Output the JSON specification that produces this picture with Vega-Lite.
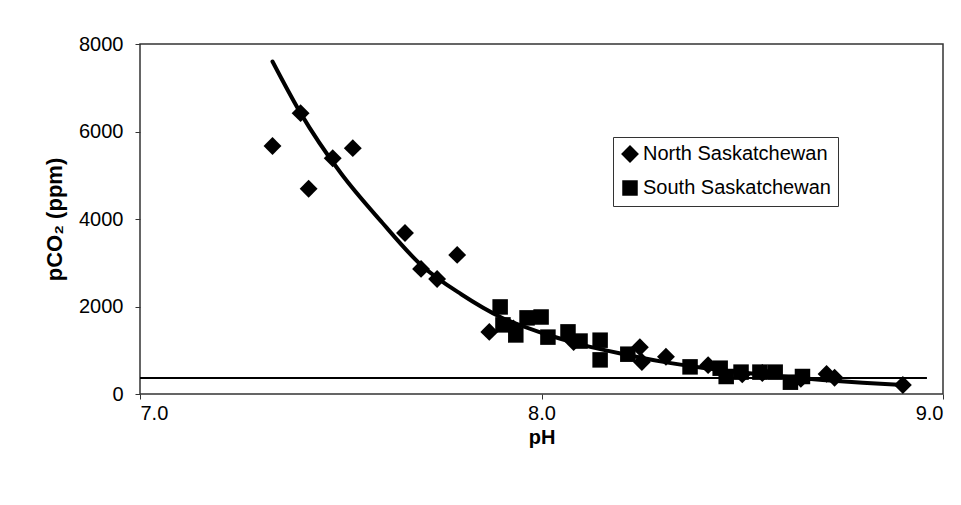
{
  "$schema": "https://vega.github.io/schema/vega-lite/v6.json",
  "autosize": "none",
  "width": 803,
  "height": 350,
  "padding": {"left": 140, "top": 44, "right": 18, "bottom": 111},
  "background": "white",
  "config": {
    "font": "Liberation Sans",
    "view": {"stroke": "#333333", "strokeWidth": 1.5},
    "axis": {
      "grid": false,
      "domain": false,
      "tickColor": "#333333",
      "tickSize": 5,
      "labelFont": "Liberation Sans",
      "labelFontSize": 20,
      "labelColor": "black",
      "titleFont": "Liberation Sans",
      "titleFontSize": 20,
      "titleFontWeight": "bold",
      "titleColor": "black"
    },
    "legend": {
      "labelFont": "Liberation Sans",
      "labelFontSize": 20,
      "labelColor": "black",
      "labelLimit": 0
    }
  },
  "datasets": {
    "samples": [
      {"river": "North Saskatchewan", "pH": 7.33, "pCO2": 5670},
      {"river": "North Saskatchewan", "pH": 7.40, "pCO2": 6420},
      {"river": "North Saskatchewan", "pH": 7.42, "pCO2": 4690},
      {"river": "North Saskatchewan", "pH": 7.48, "pCO2": 5390},
      {"river": "North Saskatchewan", "pH": 7.53, "pCO2": 5620},
      {"river": "North Saskatchewan", "pH": 7.66, "pCO2": 3680},
      {"river": "North Saskatchewan", "pH": 7.70, "pCO2": 2860},
      {"river": "North Saskatchewan", "pH": 7.74, "pCO2": 2630},
      {"river": "North Saskatchewan", "pH": 7.79, "pCO2": 3180},
      {"river": "North Saskatchewan", "pH": 7.87, "pCO2": 1420},
      {"river": "North Saskatchewan", "pH": 7.93, "pCO2": 1500},
      {"river": "North Saskatchewan", "pH": 8.08, "pCO2": 1190},
      {"river": "North Saskatchewan", "pH": 8.245, "pCO2": 1070},
      {"river": "North Saskatchewan", "pH": 8.25, "pCO2": 730},
      {"river": "North Saskatchewan", "pH": 8.31, "pCO2": 850},
      {"river": "North Saskatchewan", "pH": 8.415, "pCO2": 660},
      {"river": "North Saskatchewan", "pH": 8.50, "pCO2": 450},
      {"river": "North Saskatchewan", "pH": 8.55, "pCO2": 480},
      {"river": "North Saskatchewan", "pH": 8.646, "pCO2": 345},
      {"river": "North Saskatchewan", "pH": 8.71, "pCO2": 460},
      {"river": "North Saskatchewan", "pH": 8.73, "pCO2": 370},
      {"river": "North Saskatchewan", "pH": 8.90, "pCO2": 205},
      {"river": "South Saskatchewan", "pH": 7.897, "pCO2": 1990},
      {"river": "South Saskatchewan", "pH": 7.904, "pCO2": 1580},
      {"river": "South Saskatchewan", "pH": 7.936, "pCO2": 1350},
      {"river": "South Saskatchewan", "pH": 7.964, "pCO2": 1740},
      {"river": "South Saskatchewan", "pH": 7.999, "pCO2": 1760},
      {"river": "South Saskatchewan", "pH": 8.016, "pCO2": 1300},
      {"river": "South Saskatchewan", "pH": 8.066, "pCO2": 1420},
      {"river": "South Saskatchewan", "pH": 8.096, "pCO2": 1210},
      {"river": "South Saskatchewan", "pH": 8.146, "pCO2": 1230},
      {"river": "South Saskatchewan", "pH": 8.146, "pCO2": 780},
      {"river": "South Saskatchewan", "pH": 8.215, "pCO2": 910},
      {"river": "South Saskatchewan", "pH": 8.37, "pCO2": 620},
      {"river": "South Saskatchewan", "pH": 8.445, "pCO2": 590},
      {"river": "South Saskatchewan", "pH": 8.46, "pCO2": 400},
      {"river": "South Saskatchewan", "pH": 8.497, "pCO2": 500},
      {"river": "South Saskatchewan", "pH": 8.544, "pCO2": 500},
      {"river": "South Saskatchewan", "pH": 8.582, "pCO2": 500},
      {"river": "South Saskatchewan", "pH": 8.62, "pCO2": 270},
      {"river": "South Saskatchewan", "pH": 8.65, "pCO2": 400}
    ],
    "trend": [
      {"pH": 7.33, "pCO2": 7600},
      {"pH": 7.40, "pCO2": 6420},
      {"pH": 7.50, "pCO2": 5050},
      {"pH": 7.60, "pCO2": 3950},
      {"pH": 7.70, "pCO2": 2950},
      {"pH": 7.80, "pCO2": 2280},
      {"pH": 7.90, "pCO2": 1750},
      {"pH": 8.00, "pCO2": 1400},
      {"pH": 8.10, "pCO2": 1130},
      {"pH": 8.20, "pCO2": 920},
      {"pH": 8.30, "pCO2": 740},
      {"pH": 8.40, "pCO2": 600},
      {"pH": 8.50, "pCO2": 490},
      {"pH": 8.60, "pCO2": 400},
      {"pH": 8.70, "pCO2": 320},
      {"pH": 8.80, "pCO2": 255},
      {"pH": 8.90, "pCO2": 205}
    ],
    "atmosphere": [
      {"pHStart": 7.0, "pHEnd": 8.96, "pCO2": 365}
    ]
  },
  "layer": [
    {
      "data": {"name": "atmosphere"},
      "mark": {"type": "rule", "color": "black", "strokeWidth": 2},
      "encoding": {
        "x": {"field": "pHStart", "type": "quantitative", "scale": {"domain": [7, 9], "nice": false}},
        "x2": {"field": "pHEnd"},
        "y": {"field": "pCO2", "type": "quantitative", "scale": {"domain": [0, 8000], "nice": false}}
      }
    },
    {
      "data": {"name": "trend"},
      "mark": {"type": "line", "color": "black", "strokeWidth": 4, "interpolate": "monotone", "strokeCap": "round"},
      "encoding": {
        "x": {"field": "pH", "type": "quantitative"},
        "y": {"field": "pCO2", "type": "quantitative"}
      }
    },
    {
      "data": {"name": "samples"},
      "mark": {"type": "point", "filled": true, "color": "black", "opacity": 1},
      "encoding": {
        "x": {
          "field": "pH",
          "type": "quantitative",
          "scale": {"domain": [7, 9], "nice": false},
          "axis": {"values": [7, 8, 9], "format": ".1f", "title": "pH", "labelPadding": 4, "titlePadding": 4}
        },
        "y": {
          "field": "pCO2",
          "type": "quantitative",
          "scale": {"domain": [0, 8000], "nice": false},
          "axis": {"values": [0, 2000, 4000, 6000, 8000], "format": "d", "title": "pCO₂ (ppm)", "titleFontSize": 22, "labelPadding": 12, "titlePadding": 12}
        },
        "shape": {
          "field": "river",
          "type": "nominal",
          "scale": {"domain": ["North Saskatchewan", "South Saskatchewan"], "range": ["diamond", "square"]},
          "legend": {
            "title": null,
            "orient": "none",
            "legendX": 473,
            "legendY": 93,
            "strokeColor": "#333333",
            "fillColor": "white",
            "padding": 7,
            "symbolFillColor": "black",
            "symbolStrokeColor": "black",
            "symbolOpacity": 1,
            "labelOffset": 3,
            "rowPadding": 11
          }
        },
        "size": {
          "field": "river",
          "type": "nominal",
          "scale": {"domain": ["North Saskatchewan", "South Saskatchewan"], "range": [320, 240]},
          "legend": {
            "title": null,
            "orient": "none",
            "legendX": 473,
            "legendY": 93,
            "strokeColor": "#333333",
            "fillColor": "white",
            "padding": 7,
            "symbolFillColor": "black",
            "symbolStrokeColor": "black",
            "symbolOpacity": 1,
            "labelOffset": 3,
            "rowPadding": 11
          }
        }
      }
    }
  ]
}
